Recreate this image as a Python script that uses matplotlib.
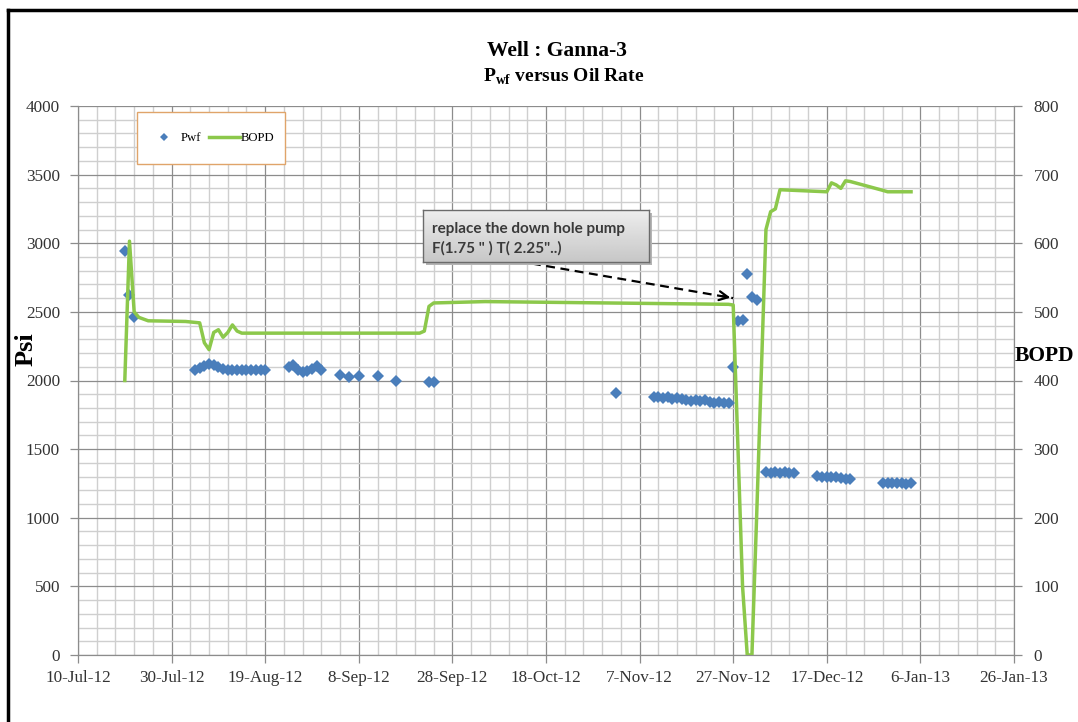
import matplotlib
matplotlib.use("Agg")
import matplotlib.pyplot as plt
import matplotlib.dates as mdates
from matplotlib.lines import Line2D
from matplotlib.patches import Rectangle
from matplotlib.ticker import FixedLocator, MultipleLocator
import numpy as np
import pandas as pd

plt.rcParams["mathtext.fontset"] = "custom"
plt.rcParams["mathtext.rm"] = "Liberation Serif:bold"
plt.rcParams["mathtext.bf"] = "Liberation Serif:bold"

# ---------------- data ----------------
pwf_dates = [
    "2012-07-20", "2012-07-21", "2012-07-22",
    "2012-08-04", "2012-08-05", "2012-08-06", "2012-08-07", "2012-08-08", "2012-08-09",
    "2012-08-10", "2012-08-11", "2012-08-12", "2012-08-13", "2012-08-14", "2012-08-15",
    "2012-08-16", "2012-08-17", "2012-08-18", "2012-08-19",
    "2012-08-24", "2012-08-25", "2012-08-26", "2012-08-27", "2012-08-28", "2012-08-29",
    "2012-08-30", "2012-08-31",
    "2012-09-04", "2012-09-06", "2012-09-08", "2012-09-12", "2012-09-16", "2012-09-23",
    "2012-09-24",
    "2012-11-02",
    "2012-11-10", "2012-11-11", "2012-11-12", "2012-11-13", "2012-11-14", "2012-11-15",
    "2012-11-16", "2012-11-17", "2012-11-18", "2012-11-19", "2012-11-20", "2012-11-21",
    "2012-11-22", "2012-11-23", "2012-11-24", "2012-11-25", "2012-11-26",
    "2012-11-27", "2012-11-28", "2012-11-29", "2012-11-30", "2012-12-01", "2012-12-02",
    "2012-12-04", "2012-12-05", "2012-12-06", "2012-12-07", "2012-12-08", "2012-12-09",
    "2012-12-10",
    "2012-12-15", "2012-12-16", "2012-12-17", "2012-12-18", "2012-12-19", "2012-12-20",
    "2012-12-21", "2012-12-22",
    "2012-12-29", "2012-12-30", "2012-12-31", "2013-01-01", "2013-01-02", "2013-01-03",
    "2013-01-04",
]
pwf_values = [
    2940, 2625, 2460,
    2080, 2090, 2105, 2120, 2110, 2095, 2085, 2080, 2080, 2080, 2080, 2080, 2080, 2080,
    2080, 2075,
    2095, 2110, 2080, 2065, 2070, 2085, 2105, 2075,
    2040, 2025, 2030, 2030, 1995, 1990, 1990,
    1910,
    1880, 1880, 1875, 1880, 1865, 1870, 1865, 1855, 1850, 1855, 1850, 1855,
    1840, 1835, 1840, 1835, 1835,
    2100, 2435, 2440, 2775, 2605, 2590,
    1330, 1325, 1330, 1325, 1330, 1325, 1325,
    1305, 1300, 1300, 1295, 1295, 1290, 1280, 1280,
    1255, 1255, 1250, 1250, 1250, 1248, 1250,
]

bopd_dates = [
    "2012-07-20", "2012-07-21", "2012-07-22", "2012-07-23", "2012-07-25", "2012-08-02",
    "2012-08-05", "2012-08-06", "2012-08-07", "2012-08-08", "2012-08-09", "2012-08-10",
    "2012-08-11", "2012-08-12", "2012-08-13", "2012-08-14", "2012-09-21", "2012-09-22",
    "2012-09-23", "2012-09-24", "2012-10-05", "2012-11-26", "2012-11-27", "2012-11-28",
    "2012-11-29", "2012-11-30", "2012-12-01", "2012-12-02", "2012-12-03", "2012-12-04",
    "2012-12-05", "2012-12-06", "2012-12-07", "2012-12-17", "2012-12-18", "2012-12-19",
    "2012-12-20", "2012-12-21", "2012-12-22", "2012-12-29", "2012-12-30", "2013-01-04",
]
bopd_values = [
    400, 603, 500, 492, 487, 486,
    484, 455, 445, 470, 474, 463,
    470, 481, 472, 469, 469, 472,
    508, 513, 515, 511, 510, 305,
    100, 0, 0, 200, 410, 620,
    646, 650, 678, 675, 688, 685,
    680, 691, 690, 677, 675, 675,
]

x_tick_labels = ["10-Jul-12", "30-Jul-12", "19-Aug-12", "8-Sep-12", "28-Sep-12",
                 "18-Oct-12", "7-Nov-12", "27-Nov-12", "17-Dec-12", "6-Jan-13", "26-Jan-13"]
left_ticks = [0, 500, 1000, 1500, 2000, 2500, 3000, 3500, 4000]
right_ticks = [0, 100, 200, 300, 400, 500, 600, 700, 800]

annotation_text = "replace the down hole pump\nF(1.75 \" ) T( 2.25\"..)"
arrow_start = ("2012-10-15", 2852)
arrow_end = ("2012-11-27", 2600)

# ---------------- figure ----------------
W, H = 1078, 722
fig = plt.figure(figsize=(W / 100, H / 100), dpi=100)
fig.patch.set_facecolor("white")

def fx(px):
    return px / W

def fy(py):
    return 1 - py / H

ax = fig.add_axes([fx(78), fy(655), fx(1014) - fx(78), fy(106) - fy(655)])
ax2 = ax.twinx()

serif = ["Liberation Serif", "DejaVu Serif"]
tick_color = "#333333"
blue = "#4a7ebb"
green = "#8cc84b"

pwf_x = mdates.date2num(pd.to_datetime(pwf_dates))
bopd_x = mdates.date2num(pd.to_datetime(bopd_dates))
tick_x = mdates.date2num(pd.to_datetime(x_tick_labels, format="%d-%b-%y"))

ax.plot(pwf_x, pwf_values, linestyle="none", marker="D", markersize=6.5,
        color=blue, markeredgewidth=0, zorder=3)
ax2.plot(bopd_x, bopd_values, color=green, lw=2.5, solid_joinstyle="round", zorder=4)

ax.set_xlim(tick_x[0], tick_x[-1])
ax.set_ylim(0, 4000)
ax2.set_ylim(0, 800)

ax.xaxis.set_major_locator(FixedLocator(tick_x))
ax.set_xticklabels(x_tick_labels)
ax.xaxis.set_minor_locator(FixedLocator(np.arange(tick_x[0], tick_x[-1] + 0.1, 4)))
ax.set_yticks(left_ticks)
ax.yaxis.set_minor_locator(MultipleLocator(100))
ax2.set_yticks(right_ticks)

ax.grid(which="major", color="#8c8c8c", lw=0.9)
ax.grid(which="minor", color="#cfcfcf", lw=1.0)
ax.set_axisbelow(True)

for a in (ax, ax2):
    for s in a.spines.values():
        s.set_color("#8c8c8c")
    a.spines["top"].set_visible(False)
    a.tick_params(which="major", length=6, color="#8c8c8c", labelcolor=tick_color,
                  labelsize=12.3, width=0.9)
    a.tick_params(which="minor", length=0)
    for lab in a.get_yticklabels() + a.get_xticklabels():
        lab.set_family(serif)
ax.tick_params(axis="y", pad=7)
ax2.tick_params(axis="y", pad=8)
ax.tick_params(axis="x", pad=5)

# axis labels
fig.text(fx(26), fy(349), "Psi", rotation=90, family=serif, fontweight="bold",
         fontsize=19, ha="center", va="center")
fig.text(fx(1044), fy(356), "BOPD", family=serif, fontweight="bold",
         fontsize=15.5, ha="center", va="center")

# title
fig.text(fx(557), fy(51), "Well : Ganna-3", family=serif, fontweight="bold",
         fontsize=15.5, ha="center", va="center")
fig.text(fx(564), fy(77), r"P$_{\mathrm{wf}}$ versus Oil Rate", family=serif,
         fontweight="bold", fontsize=14, ha="center", va="center")

# legend (frame drawn separately)
fig.add_artist(Rectangle((fx(137), fy(164)), fx(285) - fx(137), fy(112) - fy(164),
                         transform=fig.transFigure, facecolor="white",
                         edgecolor="#e0a46a", lw=1.0, zorder=6))
handles = [
    Line2D([], [], linestyle="none", marker="D", markersize=4.5, color=blue,
           markeredgewidth=0),
    Line2D([], [], color=green, lw=2.5),
]
leg = fig.legend(handles, ["Pwf", "BOPD"], loc="center left",
                 bbox_to_anchor=(fx(149), fy(138)),
                 ncol=2, prop={"family": serif, "size": 9.2}, frameon=False,
                 borderpad=0, handlelength=2.4, handletextpad=0.1,
                 columnspacing=0.6, borderaxespad=0)
leg.set_zorder(7)

# annotation box with gradient
bx0, by0, bx1, by1 = 423, 210, 649, 262
shadow = fig.add_axes([fx(bx0 + 3), fy(by1 + 3), fx(bx1) - fx(bx0), fy(by0) - fy(by1)])
shadow.set_facecolor("#b4b4b4")
shadow.set_xticks([]); shadow.set_yticks([])
for s in shadow.spines.values():
    s.set_visible(False)
box = fig.add_axes([fx(bx0), fy(by1), fx(bx1) - fx(bx0), fy(by0) - fy(by1)])
grad = np.linspace(0.93, 0.78, 64).reshape(-1, 1)
box.imshow(np.repeat(grad, 2, axis=1), cmap="gray", vmin=0, vmax=1, aspect="auto",
           extent=[0, 1, 0, 1])
box.set_xlim(0, 1); box.set_ylim(0, 1)
box.set_xticks([]); box.set_yticks([])
for s in box.spines.values():
    s.set_color("#6b6b6b")
    s.set_linewidth(1.0)
box.text(0.042, 0.45, annotation_text, transform=box.transAxes,
         family=["Lato", "DejaVu Sans"], fontweight="bold", fontsize=11,
         color="#3a3a3a", ha="left", va="center", linespacing=1.45)

# dashed arrow
sx = mdates.date2num(pd.Timestamp(arrow_start[0]))
ex = mdates.date2num(pd.Timestamp(arrow_end[0]))
ax.plot([sx, ex], [arrow_start[1], arrow_end[1]], color="black", lw=1.6,
        linestyle=(0, (4, 2.5)), zorder=5)
ax.annotate("", xy=(ex, arrow_end[1]), xytext=(ex - 3, arrow_end[1] + 18),
            arrowprops=dict(arrowstyle="->", color="black", lw=1.6,
                            mutation_scale=16), zorder=5)

# outer black border
fig.add_artist(Line2D([fx(8), 1], [fy(10), fy(10)], color="black", lw=2.5,
                      transform=fig.transFigure))
fig.add_artist(Line2D([fx(8), fx(8)], [fy(10), 0], color="black", lw=2.5,
                      transform=fig.transFigure))

fig.savefig("out.png", dpi=100)
